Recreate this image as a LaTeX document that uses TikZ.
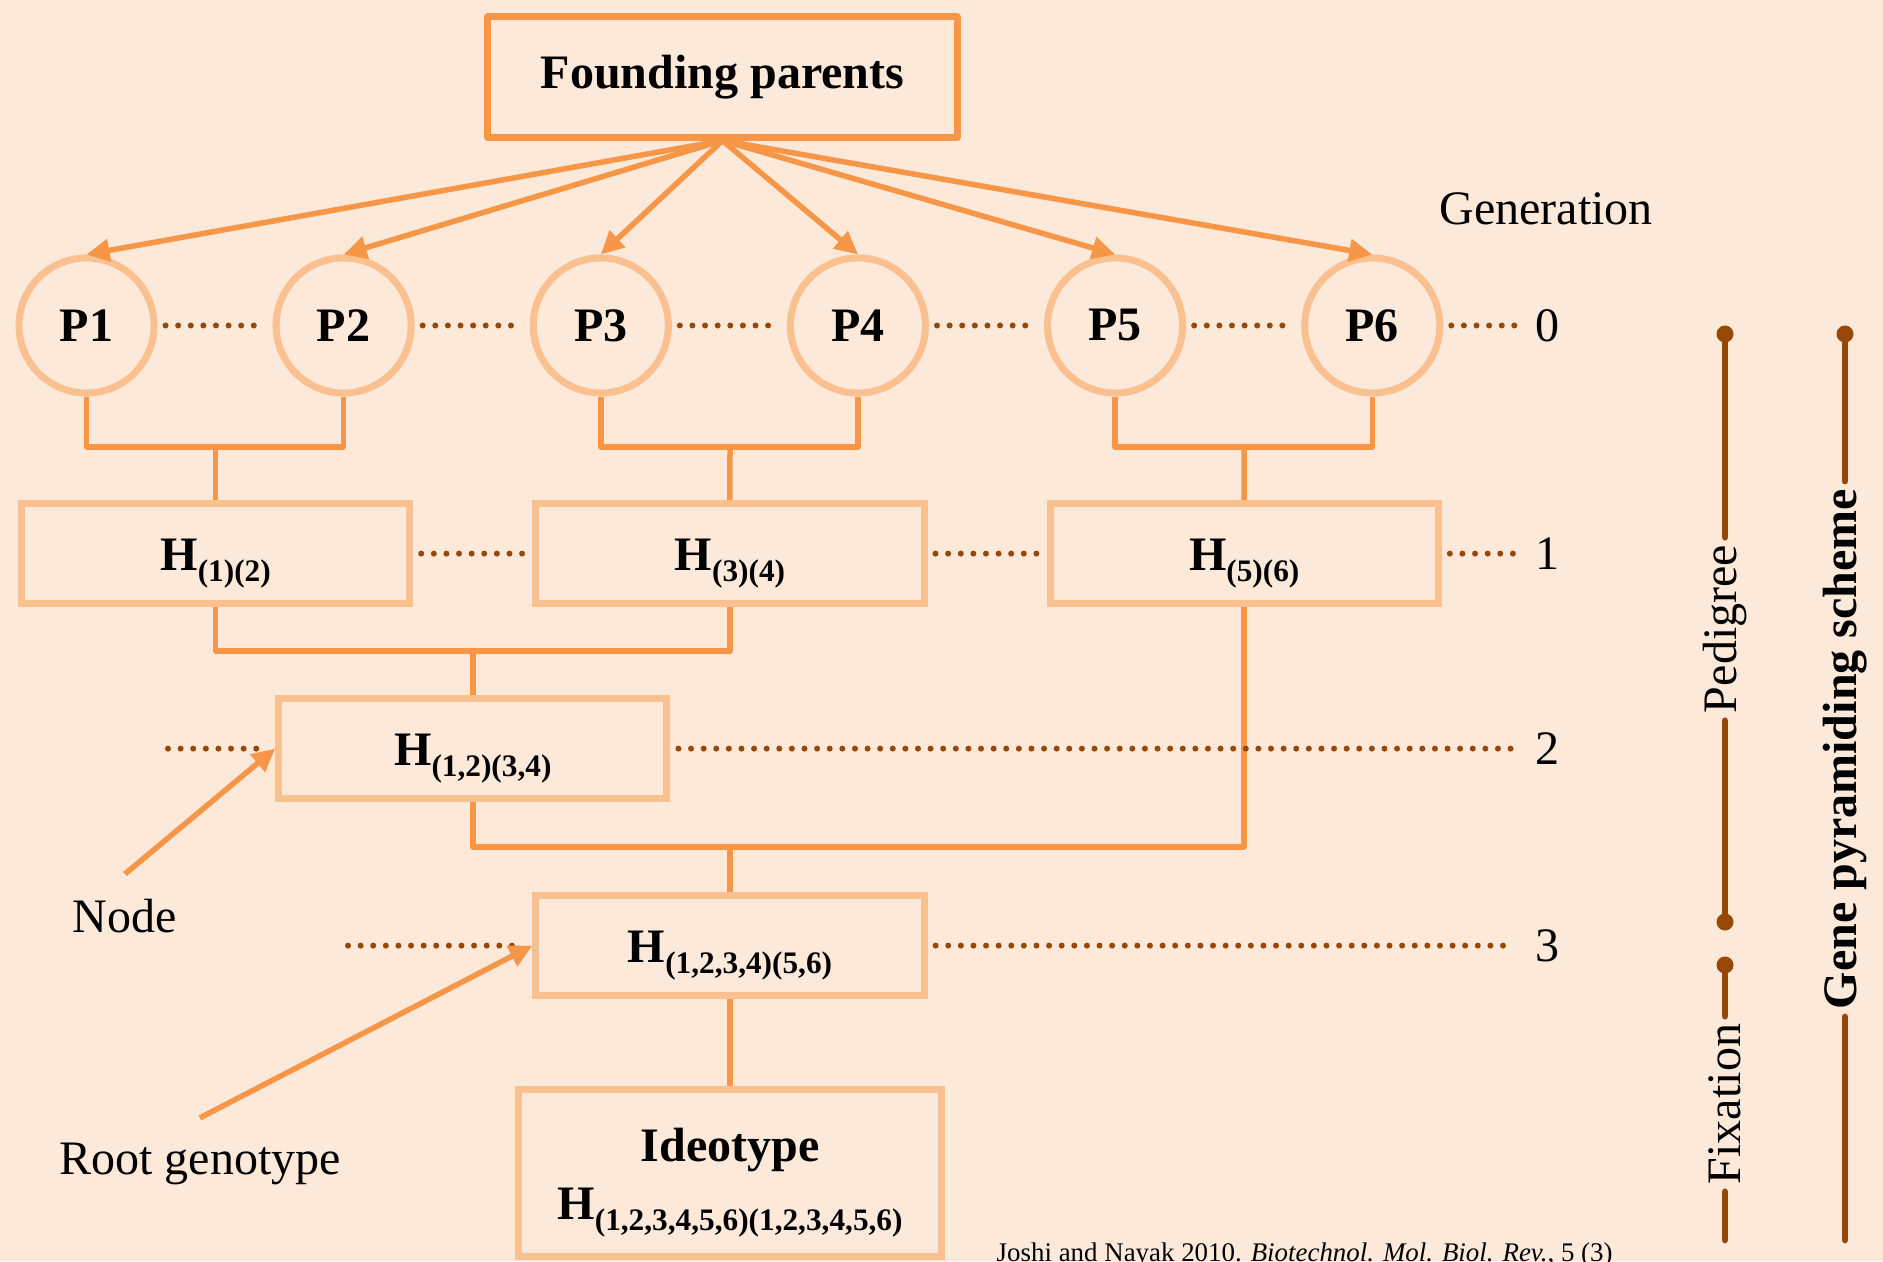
\documentclass[tikz,border=0pt]{standalone}
\usepackage{fontspec}
\setmainfont{Liberation Serif}
\usetikzlibrary{arrows.meta, positioning}

\definecolor{paper}{HTML}{FDE9D9}
\definecolor{deeporange}{HTML}{F79646}
\definecolor{paleorange}{HTML}{FAC090}
\definecolor{rust}{HTML}{974806}

% haplotype label with a lowered subscript
\newcommand{\hap}[1]{H\raisebox{-3.1pt}{\fontsize{8.9}{9}\selectfont #1}}

\begin{document}
\begin{tikzpicture}[
    x=0.01cm, y=-0.01cm,
    >={Triangle[length=0.23cm, width=0.22cm]},
    node distance=1.15cm,
    font=\fontsize{13.66}{16.5}\selectfont,
    parent/.style={
        circle,
        draw=paleorange,
        line width=0.07cm,
        minimum size=1.35cm,
        inner sep=0pt,
        font=\fontsize{13.66}{16.5}\selectfont\bfseries
    },
    hybrid/.style={
        draw=paleorange,
        line width=0.07cm,
        minimum width=3.88cm,
        minimum height=1cm,
        text height=0.33cm,
        text depth=0pt,
        font=\fontsize{13.66}{16.5}\selectfont\bfseries
    },
    link/.style={draw=deeporange, line width=0.055cm, line join=round},
    fan/.style={->, draw=deeporange, fill=deeporange, line width=0.055cm},
    gen/.style={draw=rust, line width=0.06cm, line cap=round,
        dash pattern=on 0pt off 0.126cm, shorten <=0.08cm, shorten >=0.08cm},
    bar/.style={draw=rust, line width=0.067cm, line cap=round},
    dot/.style={circle, fill=rust, inner sep=0pt, minimum size=0.17cm},
    tag/.style={anchor=base, inner sep=0.24cm}
]
\fill[paper] (0,0) rectangle (1883,1261);
\useasboundingbox (0,0) rectangle (1883,1261);

% founders and generation 0
\node[draw=deeporange, line width=0.07cm, line join=round,
      minimum width=4.69cm, minimum height=1.2cm,
      font=\fontsize{13.66}{16.5}\selectfont\bfseries] (founders) at (722.5,77) {Founding parents};
\node[parent] (p1) at (86.5,325.5) {P1};
\node[parent, right=of p1] (p2) {P2};
\node[parent, right=of p2] (p3) {P3};
\node[parent, right=of p3] (p4) {P4};
\node[parent, right=of p4] (p5) {P5};
\node[parent, right=of p5] (p6) {P6};

\draw[fan] (founders.south) -- (p1.north);
\draw[fan] (founders.south) -- (p2.north);
\draw[fan] (founders.south) -- (p3.north);
\draw[fan] (founders.south) -- (p4.north);
\draw[fan] (founders.south) -- (p5.north);
\draw[fan] (founders.south) -- (p6.north);

% crosses
\node[hybrid] (h12) at (215.6,553.6) {\hap{(1)(2)}};
\node[hybrid, right=1.19cm of h12] (h34) {\hap{(3)(4)}};
\node[hybrid, right=1.19cm of h34] (h56) {\hap{(5)(6)}};
\node[hybrid] (h1234) at (472.8,748.6) {\hap{(1,2)(3,4)}};
\node[hybrid] (hall) at (730,945.6) {\hap{(1,2,3,4)(5,6)}};
\node[draw=paleorange, line width=0.07cm, minimum width=4.23cm, minimum height=1.67cm,
      align=center, font=\fontsize{13.66}{16.5}\selectfont\bfseries] (ideotype) at (730,1173)
      {\rule{0pt}{0.53cm}Ideotype\\\hap{(1,2,3,4,5,6)(1,2,3,4,5,6)}};

\coordinate (j12) at (215.6,447);
\coordinate (j34) at (730,447);
\coordinate (j56) at (1244,447);
\coordinate (j1234) at (472.8,651);
\coordinate (jall) at (730,847);

\draw[link] (p1.south) |- (j12) -| (p2.south);
\draw[link] (j12) -- (h12.north);
\draw[link] (p3.south) |- (j34) -| (p4.south);
\draw[link] (j34) -- (h34.north);
\draw[link] (p5.south) |- (j56) -| (p6.south);
\draw[link] (j56) -- (h56.north);
\draw[link] (h12.south) |- (j1234) -| (h34.south);
\draw[link] (j1234) -- (h1234.north);
\draw[link] (h1234.south) |- (jall) -| (h56.south);
\draw[link] (jall) -- (hall.north);
\draw[link] (hall.south) -- (ideotype.north);

% generation scale
\node (genhead) at (1546,209) {Generation};
\node (g0) at (1547,325.5) {0};
\node (g1) at (1547,553.6) {1};
\node (g2) at (1547,748.6) {2};
\node (g3) at (1547,945.6) {3};
\coordinate (d2) at (160,748.6);
\coordinate (d3) at (340,945.6);

\draw[gen] (p1) -- (p2);
\draw[gen] (p2) -- (p3);
\draw[gen] (p3) -- (p4);
\draw[gen] (p4) -- (p5);
\draw[gen] (p5) -- (p6);
\draw[gen] (p6) -- (g0);
\draw[gen] (h12) -- (h34);
\draw[gen] (h34) -- (h56);
\draw[gen] (h56) -- (g1);
\draw[gen] (d2) -- (h1234);
\draw[gen] (h1234) -- (g2);
\draw[gen] (d3) -- (hall);
\draw[gen] (hall) -- (g3);

% call-outs
\node[tag] (nodetag) at (125,932) {Node};
\node[tag] (roottag) at (200,1174) {Root genotype};
\draw[fan] (nodetag.north) -- (h1234.west);
\draw[fan] (roottag.north) -- (hall.west);

% phases on the right
\node[dot] (pedtop) at (1725,334) {};
\node[dot] (pedbot) at (1725,922) {};
\node[rotate=90, inner sep=2pt] (pedigree) at (1725,629) {Pedigree};
\draw[bar] (pedtop) -- (pedigree.east);
\draw[bar] (pedigree.west) -- (pedbot);

\node[dot] (fixtop) at (1725,965) {};
\coordinate (fixend) at (1725,1240);
\node[rotate=90, inner sep=2pt] (fixation) at (1725,1104) {Fixation};
\draw[bar] (fixtop) -- (fixation.east);
\draw[bar] (fixation.west) -- (fixend);

\node[dot] (schemetop) at (1845,334) {};
\coordinate (schemeend) at (1845,1240);
\node[rotate=90, inner sep=2pt, font=\fontsize{13.66}{16.5}\selectfont\bfseries] (scheme) at (1845,749)
      {Gene pyramiding scheme};
\draw[bar] (schemetop) -- (scheme.east);
\draw[bar] (scheme.west) -- (schemeend);

% source line, cut by the page edge
\node[anchor=base west, inner sep=0pt, font=\fontsize{7.65}{9}\selectfont] (source) at (996,1261)
      {Joshi and Nayak 2010. \textit{Biotechnol. Mol. Biol. Rev.}, 5 (3)};
\end{tikzpicture}
\end{document}
